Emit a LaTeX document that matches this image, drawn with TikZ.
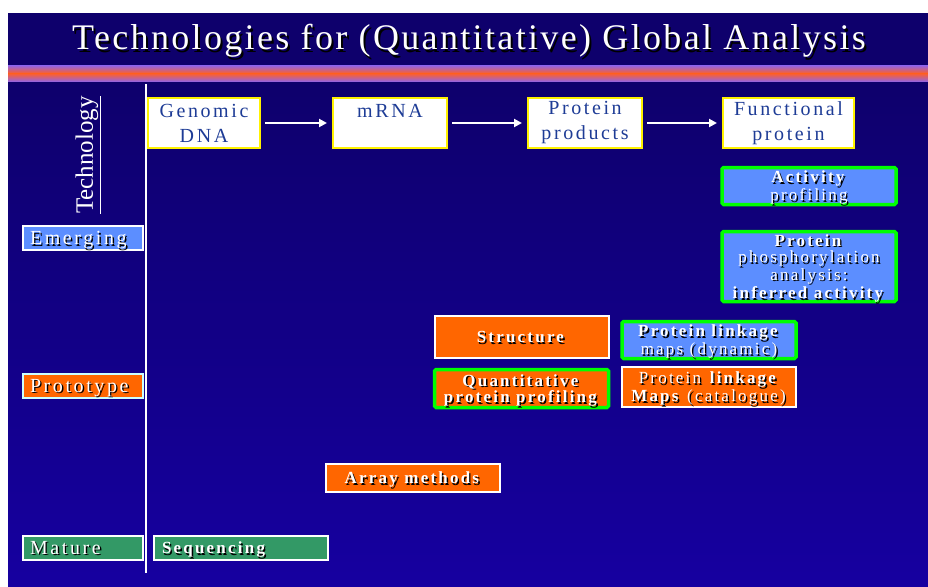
\documentclass[tikz,border=0pt]{standalone}
\usepackage{fontspec}
\setmainfont{Liberation Serif}
\newfontfamily\spaced[LetterSpace=13]{Liberation Serif}
\newfontfamily\titlefont[LetterSpace=6.5]{Liberation Serif}
\usetikzlibrary{arrows.meta,positioning}

\definecolor{header}{RGB}{14,0,108}
\definecolor{bodybottom}{RGB}{22,0,160}
\definecolor{stripeedge}{RGB}{140,100,240}
\definecolor{stripemid}{RGB}{255,95,40}
\definecolor{techblue}{RGB}{92,142,255}
\definecolor{techorange}{RGB}{255,102,0}
\definecolor{techgreen}{RGB}{51,153,102}
\definecolor{brightgreen}{RGB}{0,255,0}
\definecolor{labelblue}{RGB}{30,60,150}

% white text with a black drop shadow
\newcommand{\sh}[2][1.4pt]{\leavevmode\rlap{\hspace{#1}\raisebox{-#1}{\color{black}#2}}#2}

\begin{document}
\begin{tikzpicture}[x=1pt,y=-1pt,>={Triangle[length=8pt,width=8pt]},
    step node/.style={draw=yellow,line width=2pt,fill=white,text=labelblue,
      minimum height=50pt,align=center,inner sep=0pt,
      font=\spaced\fontsize{20}{25}\selectfont},
    tech node/.style={draw=white,line width=2pt,text=white,align=center,
      inner sep=0pt,text depth=0pt,minimum width=174pt,
      font=\spaced\fontsize{17}{16.5}\selectfont},
    hot/.style={draw=brightgreen,line width=3.5pt,rounded corners=1.5pt},
    stage/.style={draw=white,line width=2pt,text=white,minimum height=24pt,
      text width=106pt,inner xsep=7pt,inner ysep=0pt,text depth=0pt,align=left,
      font=\spaced\fontsize{20}{22}\selectfont}]

  \useasboundingbox (0,0) rectangle (928,586);
  \fill[white] (0,0) rectangle (928,586);
  \fill[header] (8,13) rectangle (928,65);
  \shade[top color=stripeedge,bottom color=stripemid] (8,65) rectangle (928,73.5);
  \shade[top color=stripemid,bottom color=stripeedge] (8,73.5) rectangle (928,82);
  \shade[top color=header,bottom color=bodybottom] (8,82) rectangle (928,586);

  \node[text=white,anchor=base,font=\titlefont\fontsize{36}{40}\selectfont] (title)
    at (469,50) {\sh[2pt]{Technologies for (Quantitative) Global Analysis}};

  \draw[white,line width=2pt] (146,84) -- (146,573);
  \node[rotate=90,text=white,font=\fontsize{25}{25}\selectfont] (axis)
    at (88,155) {\underline{Technology}};

  \node[step node,minimum width=112pt] (dna) at (204,123) {Genomic\\DNA};
  \node[step node,minimum width=114pt,right=71pt of dna] (mrna) {mRNA\\\mbox{}};
  \node[step node,minimum width=114pt,right=79pt of mrna] (prot) {Protein\\products};
  \node[step node,minimum width=131pt,right=79pt of prot] (func) {Functional\\protein};

  \foreach \a/\b in {dna/mrna,mrna/prot,prot/func}
    \draw[->,white,line width=2pt,shorten <=4pt,shorten >=5pt] (\a) -- (\b);

  \node[stage,fill=techblue] (emerging) at (83,238) {\sh{Emerging}};
  \node[stage,fill=techorange,draw={rgb,255:red,204;green,255;blue,255}] (prototype)
    at (83,386) {\sh{Prototype}};
  \node[stage,fill=techgreen] (mature) at (83,548) {\sh{Mature}};

  \node[tech node,fill=techblue,hot,minimum height=37pt] (activity) at (809,186)
    {\sh{\textbf{Activity}}\\\sh{profiling}};
  \node[tech node,fill=techblue,hot,minimum height=70pt] (phospho) at (809,266.5)
    {\sh{\textbf{Protein}}\\\sh{phosphorylation}\\\sh{analysis:}\\\sh{\textbf{inferred activity}}};
  \node[tech node,fill=techorange,minimum height=42pt] (structure) at (521.5,337)
    {\sh{\textbf{Structure}}};
  \node[tech node,fill=techorange,hot,minimum height=38pt] (quant) at (521.5,388.5)
    {\sh{\textbf{Quantitative}}\\\sh{\textbf{protein profiling}}};
  \node[tech node,fill=techblue,hot,minimum height=37pt] (dynamic) at (709,340)
    {\sh{\textbf{Protein linkage}}\\\sh{maps (dynamic)}};
  \node[tech node,fill=techorange,minimum height=40pt] (catalogue) at (708.5,387)
    {\sh{Protein \textbf{linkage}}\\\sh{\textbf{Maps} (catalogue)}};
  \node[tech node,fill=techorange,minimum height=28pt] (array) at (413,478)
    {\sh{\textbf{Array methods}}};
  \node[tech node,fill=techgreen,minimum height=24pt,text width=158pt,align=left]
    (sequencing) at (241,548) {\sh{\textbf{Sequencing}}};
\end{tikzpicture}
\end{document}
